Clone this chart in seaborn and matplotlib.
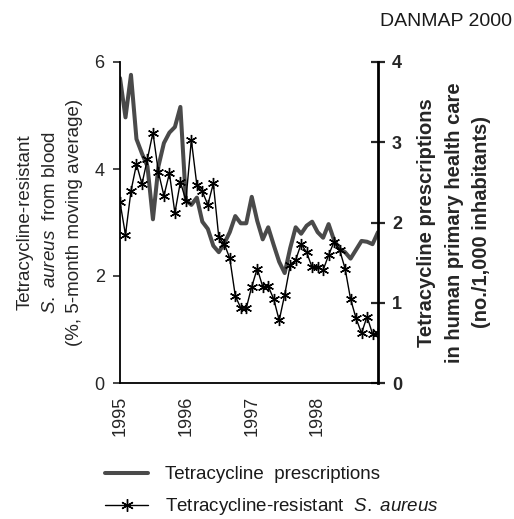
import numpy as np
import pandas as pd
import matplotlib
matplotlib.use("Agg")
import matplotlib.pyplot as plt
import seaborn as sns
from matplotlib.lines import Line2D

# ---- data (monthly, Jan 1995 .. Dec 1998) ----
months = list(range(48))
year_labels = ["1995", "1996", "1997", "1998"]
year_positions = [0, 12, 24, 36]

resistant = [3.38, 2.77, 3.59, 4.09, 3.72, 4.19, 4.68, 3.94, 3.50, 3.92, 3.18, 3.76,
             3.41, 4.54, 3.70, 3.58, 3.33, 3.73, 2.72, 2.60, 2.33, 1.63, 1.40, 1.40,
             1.80, 2.14, 1.80, 1.81, 1.57, 1.17, 1.65, 2.20, 2.30, 2.60, 2.44, 2.16,
             2.16, 2.11, 2.39, 2.64, 2.49, 2.14, 1.57, 1.21, 0.93, 1.24, 0.92, 0.93]

prescriptions = [3.80, 3.31, 3.84, 3.04, 2.86, 2.70, 2.04, 2.70, 2.99, 3.12, 3.19, 3.44,
                 2.28, 2.22, 2.31, 2.01, 1.92, 1.71, 1.63, 1.74, 1.88, 2.08, 1.99, 1.99,
                 2.32, 2.02, 1.79, 1.94, 1.72, 1.51, 1.37, 1.68, 1.94, 1.86, 1.96, 2.01,
                 1.88, 1.81, 1.98, 1.78, 1.67, 1.63, 1.55, 1.66, 1.77, 1.76, 1.73, 1.88]

df = pd.DataFrame({"month": months, "resistant": resistant, "prescriptions": prescriptions})

sns.set_style("white")
plt.rcParams["font.family"] = ["Liberation Sans", "DejaVu Sans"]
plt.rcParams["mathtext.fontset"] = "custom"
plt.rcParams["mathtext.rm"] = "Liberation Sans"
plt.rcParams["mathtext.it"] = "Liberation Sans:italic"
plt.rcParams["mathtext.bf"] = "Liberation Sans:bold"
plt.rcParams["text.color"] = "#1a1a1a"

fig = plt.figure(figsize=(5.14, 5.19), dpi=100)
ax = fig.add_axes([120/514, 1-383/519, (378-120)/514, (383-62)/519])
ax2 = ax.twinx()

star = (6, 2, 0)
gray = "#4a4a4a"

sns.lineplot(data=df, x="month", y="prescriptions", ax=ax2, color=gray, lw=2.9, zorder=2)
sns.lineplot(data=df, x="month", y="resistant", ax=ax, color="black", lw=1.0,
             marker=star, markersize=8, markeredgewidth=1.0, markeredgecolor="black", zorder=3)

ax.set_zorder(ax2.get_zorder() + 1)
ax.patch.set_visible(False)

ax.set_xlim(0, 47)
ax.set_ylim(0, 6)
ax2.set_ylim(0, 4)

ax.set_yticks([0, 2, 4, 6])
ax.set_yticklabels(["0", "2", "4", "6"], fontsize=13)
ax2.set_yticks([0, 1, 2, 3, 4])
ax2.set_yticklabels(["0", "1", "2", "3", "4"], fontsize=13, fontweight="bold")

ax.set_xticks(year_positions)
ax.set_xticklabels(year_labels, rotation=90, fontsize=13)
ax.set_xticks(months, minor=True)
ax.tick_params(axis="x", which="both", direction="out", length=4, width=0.9, pad=5)
ax.tick_params(axis="y", direction="out", length=5, width=1.2, left=True, pad=6)
ax2.tick_params(axis="y", direction="inout", length=10, width=1.6, right=True, pad=5)

for s in ["top", "right"]:
    ax.spines[s].set_visible(False)
for s in ["top", "left", "bottom"]:
    ax2.spines[s].set_visible(False)
ax.spines["left"].set_linewidth(1.3)
ax.spines["bottom"].set_linewidth(1.3)
ax2.spines["right"].set_linewidth(2.0)
for sp in list(ax.spines.values()) + list(ax2.spines.values()):
    sp.set_color("black")

ax.set_xlabel("")
ax.set_ylabel("Tetracycline-resistant\n$\\mathit{S.\\ aureus}$  from blood\n(%, 5-month moving average)",
              fontsize=13.5, labelpad=8, linespacing=1.6)
ax2.set_ylabel("Tetracycline prescriptions\nin human primary health care\n(no./1,000 inhabitants)",
               fontsize=14.5, fontweight="bold", labelpad=11, linespacing=1.55)

fig.text(512/514, 1-21/519, "DANMAP 2000", ha="right", va="center", fontsize=14)

handles = [Line2D([], [], color=gray, lw=2.9),
           Line2D([], [], color="black", lw=1.0, marker=star, markersize=9, markeredgewidth=1.0)]
labels = ["Tetracycline  prescriptions", "Tetracycline-resistant  $\\mathit{S.\\ aureus}$"]
fig.legend(handles, labels, loc="upper left", bbox_to_anchor=(105/514, 1-466/519),
           frameon=False, fontsize=13.5, handlelength=2.3, handletextpad=0.9,
           labelspacing=0.7, borderpad=0, borderaxespad=0)

fig.savefig("out.png", dpi=100)
